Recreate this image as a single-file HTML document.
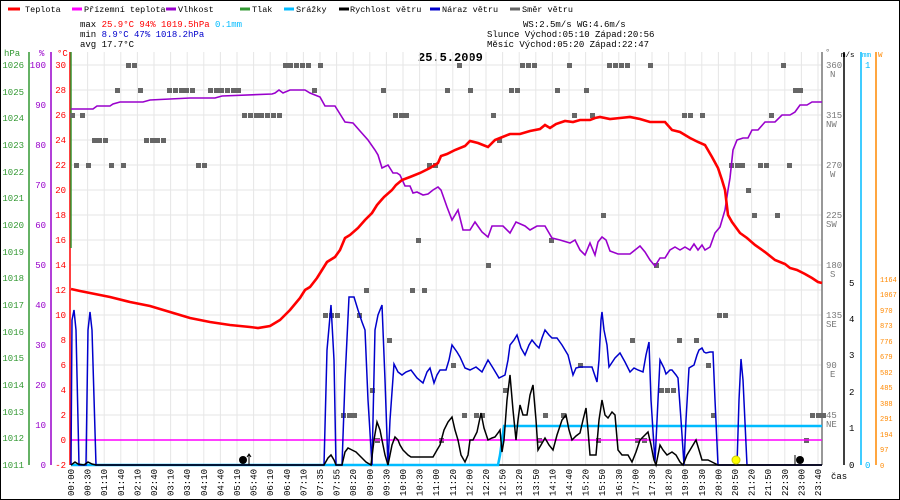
<!DOCTYPE html>
<html><head><meta charset="utf-8"><style>
html,body{margin:0;padding:0;background:#fff}
svg{display:block}
text{font-family:"Liberation Mono",monospace;font-size:9px}
.lg{font-size:8.5px}
</style></head><body>
<svg width="900" height="500" viewBox="0 0 900 500" xmlns="http://www.w3.org/2000/svg">
<rect x="0.5" y="0.5" width="899" height="499" fill="#fff" stroke="#000"/>
<!-- legend -->
<g stroke-width="3">
<line x1="8" y1="9" x2="20" y2="9" stroke="#f00"/>
<line x1="72" y1="9" x2="82" y2="9" stroke="#f0f"/>
<line x1="166" y1="9" x2="176" y2="9" stroke="#90c"/>
<line x1="240" y1="9" x2="250" y2="9" stroke="#393"/>
<line x1="284" y1="9" x2="294" y2="9" stroke="#0bf"/>
<line x1="339" y1="9" x2="349" y2="9" stroke="#000"/>
<line x1="430" y1="9" x2="440" y2="9" stroke="#00c"/>
<line x1="510" y1="9" x2="520" y2="9" stroke="#666"/>
</g>
<g class="lg">
<text class="lg" x="25" y="12">Teplota</text>
<text class="lg" x="84" y="12">Přízemní teplota</text>
<text class="lg" x="178" y="12">Vlhkost</text>
<text class="lg" x="252" y="12">Tlak</text>
<text class="lg" x="296" y="12">Srážky</text>
<text class="lg" x="350" y="12">Rychlost větru</text>
<text class="lg" x="442" y="12">Náraz větru</text>
<text class="lg" x="522" y="12">Směr větru</text>
</g>
<!-- stats -->
<text x="80" y="27">max <tspan fill="#f00">25.9°C  94%  1019.5hPa</tspan>  <tspan fill="#0bf">0.1mm</tspan></text>
<text x="80" y="37">min  <tspan fill="#00c">8.9°C  47%  1018.2hPa</tspan></text>
<text x="80" y="47">avg 17.7°C</text>
<text x="523" y="27">WS:2.5m/s   WG:4.6m/s</text>
<text x="487" y="37">Slunce Východ:05:10  Západ:20:56</text>
<text x="487" y="47">Měsíc  Východ:05:20  Západ:22:47</text>
<text x="418" y="61" style="font-size:12px;font-weight:bold">25.5.2009</text>
<!-- grid -->
<g stroke="#e6e6e6" stroke-width="1">
<line x1="71" y1="65" x2="822" y2="65"/><line x1="71" y1="90" x2="822" y2="90"/><line x1="71" y1="115" x2="822" y2="115"/><line x1="71" y1="140" x2="822" y2="140"/><line x1="71" y1="165" x2="822" y2="165"/><line x1="71" y1="190" x2="822" y2="190"/><line x1="71" y1="215" x2="822" y2="215"/><line x1="71" y1="240" x2="822" y2="240"/><line x1="71" y1="265" x2="822" y2="265"/><line x1="71" y1="290" x2="822" y2="290"/><line x1="71" y1="315" x2="822" y2="315"/><line x1="71" y1="340" x2="822" y2="340"/><line x1="71" y1="365" x2="822" y2="365"/><line x1="71" y1="390" x2="822" y2="390"/><line x1="71" y1="415" x2="822" y2="415"/><line x1="71" y1="440" x2="822" y2="440"/>
<line x1="87.6" y1="52" x2="87.6" y2="465"/><line x1="104.2" y1="52" x2="104.2" y2="465"/><line x1="120.8" y1="52" x2="120.8" y2="465"/><line x1="137.4" y1="52" x2="137.4" y2="465"/><line x1="154" y1="52" x2="154" y2="465"/><line x1="170.6" y1="52" x2="170.6" y2="465"/><line x1="187.2" y1="52" x2="187.2" y2="465"/><line x1="203.8" y1="52" x2="203.8" y2="465"/><line x1="220.4" y1="52" x2="220.4" y2="465"/><line x1="237" y1="52" x2="237" y2="465"/><line x1="253.6" y1="52" x2="253.6" y2="465"/><line x1="270.2" y1="52" x2="270.2" y2="465"/><line x1="286.8" y1="52" x2="286.8" y2="465"/><line x1="303.4" y1="52" x2="303.4" y2="465"/><line x1="320" y1="52" x2="320" y2="465"/><line x1="336.6" y1="52" x2="336.6" y2="465"/><line x1="353.2" y1="52" x2="353.2" y2="465"/><line x1="369.8" y1="52" x2="369.8" y2="465"/><line x1="386.4" y1="52" x2="386.4" y2="465"/><line x1="403" y1="52" x2="403" y2="465"/><line x1="419.6" y1="52" x2="419.6" y2="465"/><line x1="436.2" y1="52" x2="436.2" y2="465"/><line x1="452.8" y1="52" x2="452.8" y2="465"/><line x1="469.4" y1="52" x2="469.4" y2="465"/><line x1="486" y1="52" x2="486" y2="465"/><line x1="502.6" y1="52" x2="502.6" y2="465"/><line x1="519.2" y1="52" x2="519.2" y2="465"/><line x1="535.8" y1="52" x2="535.8" y2="465"/><line x1="552.4" y1="52" x2="552.4" y2="465"/><line x1="569" y1="52" x2="569" y2="465"/><line x1="585.6" y1="52" x2="585.6" y2="465"/><line x1="602.2" y1="52" x2="602.2" y2="465"/><line x1="618.8" y1="52" x2="618.8" y2="465"/><line x1="635.4" y1="52" x2="635.4" y2="465"/><line x1="652" y1="52" x2="652" y2="465"/><line x1="668.6" y1="52" x2="668.6" y2="465"/><line x1="685.2" y1="52" x2="685.2" y2="465"/><line x1="701.8" y1="52" x2="701.8" y2="465"/><line x1="718.4" y1="52" x2="718.4" y2="465"/><line x1="735" y1="52" x2="735" y2="465"/><line x1="751.6" y1="52" x2="751.6" y2="465"/><line x1="768.2" y1="52" x2="768.2" y2="465"/><line x1="784.8" y1="52" x2="784.8" y2="465"/><line x1="801.4" y1="52" x2="801.4" y2="465"/><line x1="818" y1="52" x2="818" y2="465"/>
</g>
<!-- left axes -->
<g stroke-width="1.5">
<line x1="29" y1="52" x2="29" y2="465" stroke="#393"/>
<line x1="51" y1="52" x2="51" y2="465" stroke="#90c"/>
<line x1="70" y1="52" x2="70" y2="465" stroke="#f00"/>
<line x1="71" y1="52" x2="71" y2="248" stroke="#393"/>
</g>
<text x="4" y="56" fill="#393">hPa</text><text x="39" y="56" fill="#90c">%</text><text x="57" y="56" fill="#f00">°C</text>
<g fill="#393" text-anchor="end">
<text x="24" y="68">1026</text><text x="24" y="95">1025</text><text x="24" y="121">1024</text><text x="24" y="148">1023</text><text x="24" y="175">1022</text><text x="24" y="201">1021</text><text x="24" y="228">1020</text><text x="24" y="255">1019</text><text x="24" y="281">1018</text><text x="24" y="308">1017</text><text x="24" y="335">1016</text><text x="24" y="361">1015</text><text x="24" y="388">1014</text><text x="24" y="415">1013</text><text x="24" y="441">1012</text><text x="24" y="468">1011</text>
</g>
<g fill="#90c" text-anchor="end">
<text x="46" y="68">100</text><text x="46" y="108">90</text><text x="46" y="148">80</text><text x="46" y="188">70</text><text x="46" y="228">60</text><text x="46" y="268">50</text><text x="46" y="308">40</text><text x="46" y="348">30</text><text x="46" y="388">20</text><text x="46" y="428">10</text><text x="46" y="468">0</text>
</g>
<g fill="#f00" text-anchor="end">
<text x="66" y="68">30</text><text x="66" y="93">28</text><text x="66" y="118">26</text><text x="66" y="143">24</text><text x="66" y="168">22</text><text x="66" y="193">20</text><text x="66" y="218">18</text><text x="66" y="243">16</text><text x="66" y="268">14</text><text x="66" y="293">12</text><text x="66" y="318">10</text><text x="66" y="343">8</text><text x="66" y="368">6</text><text x="66" y="393">4</text><text x="66" y="418">2</text><text x="66" y="443">0</text><text x="66" y="468">-2</text>
</g>
<!-- right axes -->
<line x1="822" y1="52" x2="822" y2="465" stroke="#777" stroke-width="1.5"/>
<line x1="844" y1="52" x2="844" y2="465" stroke="#000" stroke-width="1.5"/>
<line x1="861" y1="52" x2="861" y2="465" stroke="#0bf" stroke-width="1.5"/>
<line x1="876" y1="52" x2="876" y2="465" stroke="#f80" stroke-width="1.5"/>
<text x="825" y="55" fill="#777">°</text>
<g style="font-size:7.5px">
<text style="font-size:7.5px" x="841" y="57">m/s</text><text style="font-size:7.5px" x="862" y="57" fill="#0bf">mm</text><text style="font-size:7.5px" x="878" y="57" fill="#f80">W</text>
</g>
<g fill="#777">
<text x="826" y="68">360</text><text x="830" y="77">N</text>
<text x="826" y="118">315</text><text x="826" y="127">NW</text>
<text x="826" y="168">270</text><text x="830" y="177">W</text>
<text x="826" y="218">225</text><text x="826" y="227">SW</text>
<text x="826" y="268">180</text><text x="830" y="277">S</text>
<text x="826" y="318">135</text><text x="826" y="327">SE</text>
<text x="826" y="368">90</text><text x="830" y="377">E</text>
<text x="826" y="418">45</text><text x="826" y="427">NE</text>
</g>
<g>
<text x="849" y="286">5</text><text x="849" y="322">4</text><text x="849" y="358">3</text><text x="849" y="395">2</text><text x="849" y="431">1</text><text x="849" y="468">0</text>
</g>
<text x="865" y="68" fill="#0bf">1</text><text x="865" y="468" fill="#0bf">0</text>
<g fill="#f80">
<text style="font-size:7px" x="880" y="282">1164</text><text style="font-size:7px" x="880" y="297">1067</text><text style="font-size:7px" x="880" y="313">970</text><text style="font-size:7px" x="880" y="328">873</text><text style="font-size:7px" x="880" y="344">776</text><text style="font-size:7px" x="880" y="359">679</text><text style="font-size:7px" x="880" y="375">582</text><text style="font-size:7px" x="880" y="390">485</text><text style="font-size:7px" x="880" y="406">388</text><text style="font-size:7px" x="880" y="421">291</text><text style="font-size:7px" x="880" y="437">194</text><text style="font-size:7px" x="880" y="452">97</text><text style="font-size:7px" x="880" y="468">0</text>
</g>
<text x="831" y="479">čas</text>
<line x1="71" y1="465" x2="822" y2="465" stroke="#000" stroke-width="1.5"/>
<!-- x labels -->
<g style="font-size:8.5px">
<text transform="translate(74,496) rotate(-90)">00:00</text><text transform="translate(90.6,496) rotate(-90)">00:30</text><text transform="translate(107.2,496) rotate(-90)">01:10</text><text transform="translate(123.8,496) rotate(-90)">01:40</text><text transform="translate(140.4,496) rotate(-90)">02:10</text><text transform="translate(157,496) rotate(-90)">02:40</text><text transform="translate(173.6,496) rotate(-90)">03:10</text><text transform="translate(190.2,496) rotate(-90)">03:40</text><text transform="translate(206.8,496) rotate(-90)">04:10</text><text transform="translate(223.4,496) rotate(-90)">04:40</text><text transform="translate(240,496) rotate(-90)">05:10</text><text transform="translate(256.6,496) rotate(-90)">05:40</text><text transform="translate(273.2,496) rotate(-90)">06:10</text><text transform="translate(289.8,496) rotate(-90)">06:40</text><text transform="translate(306.4,496) rotate(-90)">07:10</text><text transform="translate(323,496) rotate(-90)">07:35</text><text transform="translate(339.6,496) rotate(-90)">07:55</text><text transform="translate(356.2,496) rotate(-90)">08:20</text><text transform="translate(372.8,496) rotate(-90)">09:00</text><text transform="translate(389.4,496) rotate(-90)">09:30</text><text transform="translate(406,496) rotate(-90)">10:00</text><text transform="translate(422.6,496) rotate(-90)">10:30</text><text transform="translate(439.2,496) rotate(-90)">11:00</text><text transform="translate(455.8,496) rotate(-90)">11:20</text><text transform="translate(472.4,496) rotate(-90)">12:00</text><text transform="translate(489,496) rotate(-90)">12:20</text><text transform="translate(505.6,496) rotate(-90)">12:50</text><text transform="translate(522.2,496) rotate(-90)">13:20</text><text transform="translate(538.8,496) rotate(-90)">13:50</text><text transform="translate(555.4,496) rotate(-90)">14:10</text><text transform="translate(572,496) rotate(-90)">14:40</text><text transform="translate(588.6,496) rotate(-90)">15:20</text><text transform="translate(605.2,496) rotate(-90)">15:50</text><text transform="translate(621.8,496) rotate(-90)">16:30</text><text transform="translate(638.4,496) rotate(-90)">17:00</text><text transform="translate(655,496) rotate(-90)">17:30</text><text transform="translate(671.6,496) rotate(-90)">18:20</text><text transform="translate(688.2,496) rotate(-90)">19:00</text><text transform="translate(704.8,496) rotate(-90)">19:30</text><text transform="translate(721.4,496) rotate(-90)">20:00</text><text transform="translate(738,496) rotate(-90)">20:50</text><text transform="translate(754.6,496) rotate(-90)">21:20</text><text transform="translate(771.2,496) rotate(-90)">21:50</text><text transform="translate(787.8,496) rotate(-90)">22:30</text><text transform="translate(804.4,496) rotate(-90)">23:00</text><text transform="translate(821,496) rotate(-90)">23:40</text>
</g>
<!-- direction squares -->
<g fill="#666">
<rect x="126" y="63" width="5" height="5"/><rect x="132" y="63" width="5" height="5"/><rect x="283" y="63" width="5" height="5"/><rect x="288" y="63" width="5" height="5"/><rect x="294" y="63" width="5" height="5"/><rect x="300" y="63" width="5" height="5"/><rect x="306" y="63" width="5" height="5"/><rect x="318" y="63" width="5" height="5"/><rect x="457" y="63" width="5" height="5"/><rect x="520" y="63" width="5" height="5"/><rect x="526" y="63" width="5" height="5"/><rect x="532" y="63" width="5" height="5"/><rect x="567" y="63" width="5" height="5"/><rect x="607" y="63" width="5" height="5"/><rect x="613" y="63" width="5" height="5"/><rect x="619" y="63" width="5" height="5"/><rect x="625" y="63" width="5" height="5"/><rect x="648" y="63" width="5" height="5"/><rect x="781" y="63" width="5" height="5"/>
<rect x="115" y="88" width="5" height="5"/><rect x="138" y="88" width="5" height="5"/><rect x="167" y="88" width="5" height="5"/><rect x="173" y="88" width="5" height="5"/><rect x="179" y="88" width="5" height="5"/><rect x="184" y="88" width="5" height="5"/><rect x="190" y="88" width="5" height="5"/><rect x="208" y="88" width="5" height="5"/><rect x="214" y="88" width="5" height="5"/><rect x="219" y="88" width="5" height="5"/><rect x="225" y="88" width="5" height="5"/><rect x="231" y="88" width="5" height="5"/><rect x="236" y="88" width="5" height="5"/><rect x="312" y="88" width="5" height="5"/><rect x="381" y="88" width="5" height="5"/><rect x="445" y="88" width="5" height="5"/><rect x="468" y="88" width="5" height="5"/><rect x="509" y="88" width="5" height="5"/><rect x="515" y="88" width="5" height="5"/><rect x="555" y="88" width="5" height="5"/><rect x="584" y="88" width="5" height="5"/><rect x="793" y="88" width="5" height="5"/><rect x="798" y="88" width="5" height="5"/>
<rect x="70" y="113" width="5" height="5"/><rect x="80" y="113" width="5" height="5"/><rect x="242" y="113" width="5" height="5"/><rect x="248" y="113" width="5" height="5"/><rect x="254" y="113" width="5" height="5"/><rect x="259" y="113" width="5" height="5"/><rect x="265" y="113" width="5" height="5"/><rect x="271" y="113" width="5" height="5"/><rect x="277" y="113" width="5" height="5"/><rect x="393" y="113" width="5" height="5"/><rect x="399" y="113" width="5" height="5"/><rect x="404" y="113" width="5" height="5"/><rect x="491" y="113" width="5" height="5"/><rect x="572" y="113" width="5" height="5"/><rect x="590" y="113" width="5" height="5"/><rect x="682" y="113" width="5" height="5"/><rect x="688" y="113" width="5" height="5"/><rect x="700" y="113" width="5" height="5"/><rect x="769" y="113" width="5" height="5"/>
<rect x="92" y="138" width="5" height="5"/><rect x="97" y="138" width="5" height="5"/><rect x="103" y="138" width="5" height="5"/><rect x="144" y="138" width="5" height="5"/><rect x="150" y="138" width="5" height="5"/><rect x="155" y="138" width="5" height="5"/><rect x="161" y="138" width="5" height="5"/><rect x="497" y="138" width="5" height="5"/>
<rect x="74" y="163" width="5" height="5"/><rect x="86" y="163" width="5" height="5"/><rect x="109" y="163" width="5" height="5"/><rect x="121" y="163" width="5" height="5"/><rect x="196" y="163" width="5" height="5"/><rect x="202" y="163" width="5" height="5"/><rect x="427" y="163" width="5" height="5"/><rect x="433" y="163" width="5" height="5"/><rect x="729" y="163" width="5" height="5"/><rect x="735" y="163" width="5" height="5"/><rect x="740" y="163" width="5" height="5"/><rect x="758" y="163" width="5" height="5"/><rect x="764" y="163" width="5" height="5"/><rect x="787" y="163" width="5" height="5"/>
<rect x="746" y="188" width="5" height="5"/>
<rect x="601" y="213" width="5" height="5"/><rect x="752" y="213" width="5" height="5"/><rect x="775" y="213" width="5" height="5"/>
<rect x="416" y="238" width="5" height="5"/><rect x="549" y="238" width="5" height="5"/>
<rect x="486" y="263" width="5" height="5"/><rect x="654" y="263" width="5" height="5"/>
<rect x="364" y="288" width="5" height="5"/><rect x="410" y="288" width="5" height="5"/><rect x="422" y="288" width="5" height="5"/>
<rect x="323" y="313" width="5" height="5"/><rect x="329" y="313" width="5" height="5"/><rect x="335" y="313" width="5" height="5"/><rect x="357" y="313" width="5" height="5"/><rect x="717" y="313" width="5" height="5"/><rect x="723" y="313" width="5" height="5"/>
<rect x="387" y="338" width="5" height="5"/><rect x="630" y="338" width="5" height="5"/><rect x="677" y="338" width="5" height="5"/><rect x="694" y="338" width="5" height="5"/>
<rect x="451" y="363" width="5" height="5"/><rect x="578" y="363" width="5" height="5"/><rect x="706" y="363" width="5" height="5"/>
<rect x="370" y="388" width="5" height="5"/><rect x="503" y="388" width="5" height="5"/><rect x="659" y="388" width="5" height="5"/><rect x="665" y="388" width="5" height="5"/><rect x="671" y="388" width="5" height="5"/>
<rect x="341" y="413" width="5" height="5"/><rect x="347" y="413" width="5" height="5"/><rect x="352" y="413" width="5" height="5"/><rect x="462" y="413" width="5" height="5"/><rect x="474" y="413" width="5" height="5"/><rect x="480" y="413" width="5" height="5"/><rect x="543" y="413" width="5" height="5"/><rect x="561" y="413" width="5" height="5"/><rect x="711" y="413" width="5" height="5"/><rect x="810" y="413" width="5" height="5"/><rect x="816" y="413" width="5" height="5"/><rect x="821" y="413" width="5" height="5"/>
<rect x="375" y="438" width="5" height="5"/><rect x="439" y="438" width="5" height="5"/><rect x="537" y="438" width="5" height="5"/><rect x="596" y="438" width="5" height="5"/><rect x="635" y="438" width="5" height="5"/><rect x="642" y="438" width="5" height="5"/><rect x="804" y="438" width="5" height="5"/>
</g>
<!-- dew point -->
<line x1="71" y1="440" x2="822" y2="440" stroke="#f0f" stroke-width="1.5"/>
<!-- rain -->
<polyline fill="none" stroke="#0bf" stroke-width="2.5" points="71,465 498,465 500,455 504,426 822,426"/>
<!-- gust -->
<polyline fill="none" stroke="#00c" stroke-width="1.5" points="71,465 72,320 74,310 76,330 79,465 86,465 88,330 90,312 92,330 96,465 324,465 327,350 331,305 334,360 336,465 342,465 345,380 349,297 354,297 358,310 362,322 365,330 368,400 372,465 375,330 378,315 382,305 385,380 388,465 390,420 394,364 398,372 402,375 406,372 411,370 417,378 423,383 427,372 430,368 434,383 437,375 440,370 446,370 449,360 452,345 457,352 460,357 465,368 470,370 476,367 482,372 488,360 493,368 499,378 505,375 508,360 510,345 514,340 517,335 521,348 525,355 529,345 532,340 536,345 539,348 542,338 545,330 549,335 552,338 557,338 562,345 565,350 568,355 573,375 576,368 580,367 592,367 597,382 599,360 601,320 602,312 604,330 607,345 609,367 615,358 620,353 625,362 630,372 634,368 638,370 643,372 646,355 649,342 651,400 655,462 658,400 660,360 664,368 666,374 670,370 672,370 676,375 678,378 681,420 684,465 686,420 689,368 694,365 697,355 699,350 702,348 704,352 706,353 710,352 713,352 715,400 718,465 737,465 739,400 741,359 743,380 747,465 822,465"/>
<!-- wind speed -->
<polyline fill="none" stroke="#000" stroke-width="1.5" points="71,465 75,462 78,464 84,465 88,462 92,464 96,465 324,465 328,458 331,455 334,460 336,465 342,465 345,452 348,448 352,450 356,452 359,455 362,458 366,462 371,465 374,440 377,422 380,430 382,440 385,455 388,465 392,445 395,437 398,440 400,445 403,450 405,452 408,455 411,457 433,457 437,450 440,445 444,430 448,422 452,417 455,430 458,440 461,455 465,462 468,455 470,440 473,440 477,432 481,413 484,428 488,440 492,438 495,437 498,433 500,430 502,452 504,440 507,400 510,375 513,410 516,440 518,420 520,405 523,415 527,415 530,395 533,385 536,420 538,450 541,445 545,438 549,445 553,450 557,435 562,420 566,415 569,430 572,440 576,436 580,433 583,420 586,408 588,430 590,455 596,455 599,420 602,400 605,415 608,418 612,412 615,415 618,450 622,455 626,455 628,455 632,462 636,452 640,440 644,436 648,432 651,445 654,460 656,465 658,455 660,445 663,450 667,455 672,452 676,455 680,462 683,465 687,455 690,450 693,445 696,440 699,450 702,460 708,460 712,462 718,465 822,465"/>
<!-- humidity -->
<polyline fill="none" stroke="#90c" stroke-width="1.6" points="71,109 93,109 97,106 110,106 113,104 120,102 143,102 150,100 190,98 215,98 222,96 272,94 275,93 279,90 283,93 290,90 305,90 310,93 320,97 325,106 335,106 340,114 345,122 353,123 360,131 368,140 375,150 378,155 382,168 388,165 393,173 397,173 400,175 405,186 410,186 413,193 417,192 423,195 428,194 433,190 438,187 441,190 447,207 452,220 458,210 463,230 470,230 475,222 482,232 488,237 492,226 503,226 510,233 516,222 525,226 530,230 537,226 545,226 552,238 560,240 570,243 575,240 580,250 585,255 590,243 595,255 598,242 602,237 606,240 610,251 618,254 630,254 640,246 645,252 650,260 655,266 660,258 665,258 670,250 675,247 680,250 685,247 690,250 694,244 698,250 702,245 705,250 710,247 715,233 720,227 725,210 728,190 730,178 733,150 737,140 743,138 748,138 752,130 758,130 765,122 775,122 782,115 790,115 795,112 800,105 807,105 812,102 822,102"/>
<!-- temperature -->
<polyline fill="none" stroke="#f00" stroke-width="2.6" points="71,289 80,291 95,294 110,297 130,302 150,306 170,312 190,318 210,322 230,325 250,327 258,328 270,326 280,320 290,310 300,298 305,290 310,287 317,278 322,270 327,262 335,257 340,250 345,238 350,235 358,228 365,220 372,213 377,205 384,197 392,190 396,185 402,180 410,177 420,173 430,168 438,163 441,156 447,154 455,150 465,146 470,141 478,143 488,147 495,140 500,138 510,134 520,134 530,131 540,129 545,125 550,128 556,124 565,121 573,122 580,120 590,120 595,118 600,117 610,119 620,118 630,117 640,119 650,122 665,122 672,130 680,132 690,138 698,142 705,145 712,157 718,168 722,180 725,190 728,215 732,222 740,233 747,238 755,245 765,252 775,260 785,264 790,268 797,270 805,274 812,278 818,282 822,283"/>
<!-- sun/moon icons -->
<circle cx="243" cy="460" r="4" fill="#000"/><line x1="249" y1="465" x2="249" y2="455" stroke="#000"/><path d="M247,457 L249,454 L251,457" fill="none" stroke="#000"/>
<circle cx="736" cy="460" r="4" fill="#ff0" stroke="#cc0"/>
<circle cx="800" cy="460" r="4" fill="#000"/><line x1="795" y1="465" x2="795" y2="455" stroke="#000"/>
</svg>
</body></html>
